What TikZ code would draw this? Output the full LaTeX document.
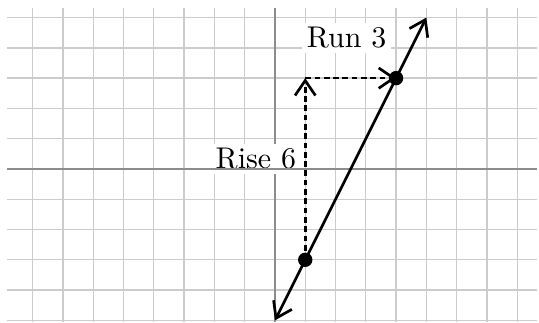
\documentclass[tikz,border=0pt]{standalone}
\usetikzlibrary{arrows.meta}
\begin{document}
\begin{tikzpicture}[x=0.355cm,y=0.355cm,
  gridline/.style={draw=black!20, line width=0.45pt},
  axisline/.style={draw=black!45, line width=0.5pt},
  barbtip/.tip={Straight Barb[length=5pt,width=6.8pt]},
  mainline/.style={line width=0.9pt},
  dashline/.style={line width=0.9pt, dash pattern=on 1.9pt off 1.2pt},
  dot/.style={circle, fill=black, inner sep=0pt, minimum size=4.8pt},
  lab/.style={fill=white, inner sep=1.5pt}]
\useasboundingbox (-9.08,-5.08) rectangle (8.72,5.58);
% grid and axes
\draw[gridline, step=1] (-8.85,-5.06) grid (8.65,5.3);
\draw[axisline] (0,-5.06) -- (0,5.3);
% labels
\node[lab, anchor=base] (run) at (2.37,4) {Run 3};
\node[lab, anchor=base east] (rise) at (0.87,0) {Rise 6};
\draw[axisline] (-8.85,0) -- (8.65,0);
% points
\coordinate (L1) at (0,-5);
\coordinate (L2) at (5,5);
\coordinate (P1) at (1,-3);
\coordinate (P2) at (4,3);
\coordinate (C) at (1,3);
% rise and run
\draw[dashline, -barbtip] (P1) -- (C);
\draw[dashline, -barbtip] (C) -- (P2);
% line
\draw[mainline, barbtip-barbtip] (L1) -- (L2);
% dots
\node[dot] (d1) at (P1) {};
\node[dot] (d2) at (P2) {};
\end{tikzpicture}
\end{document}
